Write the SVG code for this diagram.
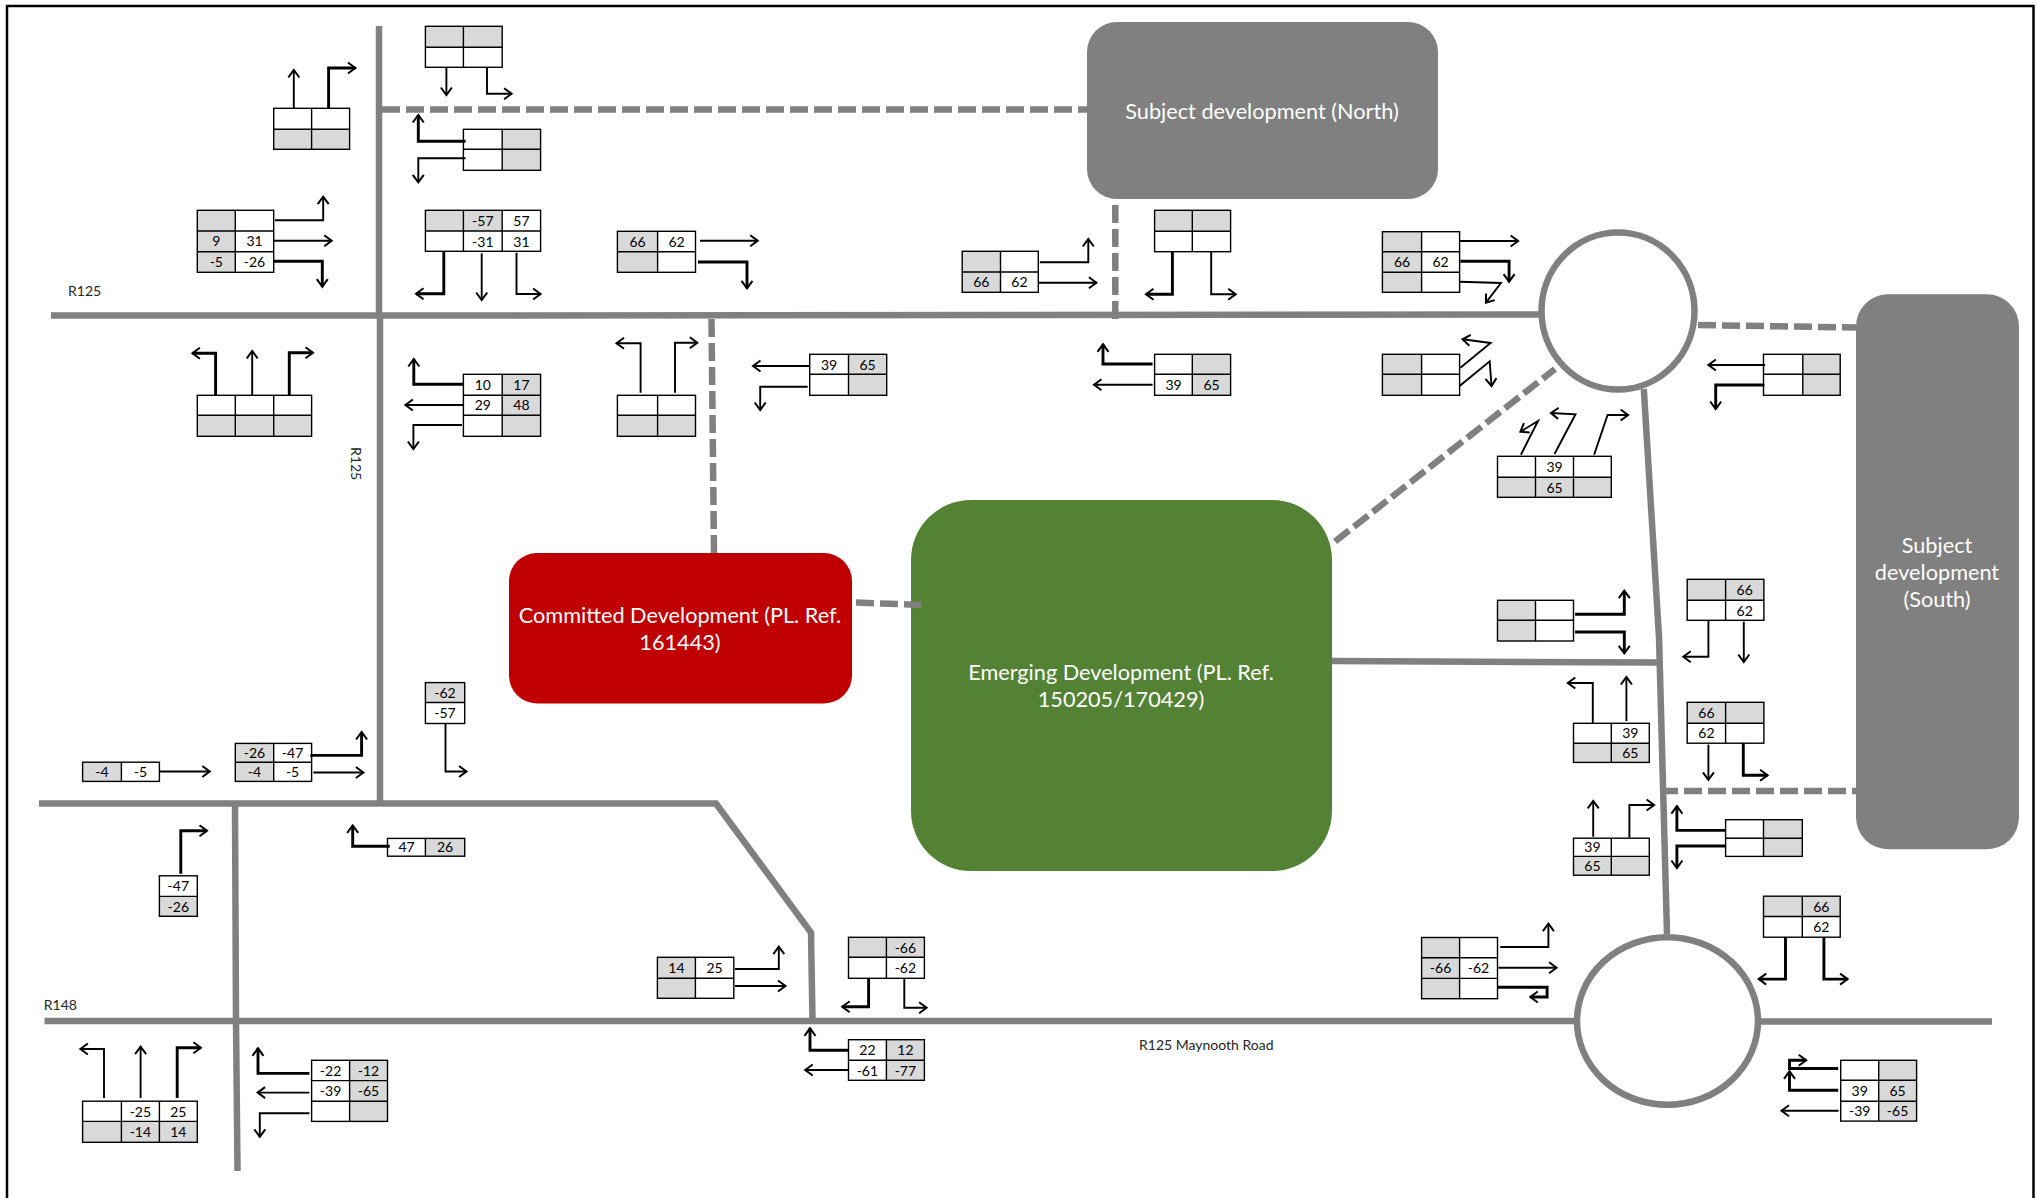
<svg xmlns="http://www.w3.org/2000/svg" width="2036" height="1198" viewBox="0 0 2036 1198">
<style>
.road{fill:none;stroke:#808080;stroke-width:6.5}
.dash{fill:none;stroke:#808080;stroke-width:6.5;stroke-dasharray:18 6}
.a{fill:none;stroke:#000;stroke-width:1.9;marker-end:url(#ah)}
.t{fill:none;stroke:#000;stroke-width:2.9;marker-end:url(#ah)}
.w{fill:#fff}
.g{fill:#d9d9d9}
.o{fill:none;stroke:#000;stroke-width:1.4}
text{font-family:Lato,"Liberation Sans",sans-serif;fill:#000;text-anchor:middle;font-size:14px}
.lab{fill:#262626;font-size:14px;text-anchor:start}
.big{fill:#fff;font-size:21.7px}
</style>
<defs>
<marker id="ah" markerUnits="userSpaceOnUse" markerWidth="16" markerHeight="16" viewBox="-12 -8 16 16" refX="0" refY="0" orient="auto">
<path d="M-7.5,-5.5L0,0L-7.5,5.5" fill="none" stroke="#000" stroke-width="2"/>
</marker>
</defs>
<rect width="2036" height="1198" fill="#fff"/>
<path d="M7,1198V6H2033.5V1198" fill="none" stroke="#000" stroke-width="2.5"/>
<g id="roads">
<path class="road" d="M379,26V316"/>
<path class="road" d="M380,316V803"/>
<path class="road" d="M51,315.5H379L1539,314.5"/>
<path class="road" d="M39,803.5H716L811,932.5L812.5,1020"/>
<path class="road" d="M235,803L236,1020L237.5,1171"/>
<path class="road" d="M44.5,1021H1577"/>
<path class="road" d="M1760,1021.5H1992"/>
<path class="road" d="M1643.8,389L1659,637L1667,934"/>
<path class="road" d="M1332,661L1659,662.5"/>
<ellipse class="road" cx="1618" cy="311" rx="76.5" ry="78.5"/>
<ellipse class="road" cx="1667.5" cy="1021" rx="90.5" ry="83.8"/>
<path class="dash" d="M382,109.5H1088"/>
<path class="dash" d="M1115.3,205V320"/>
<path class="dash" d="M711.5,319L714,553"/>
<path class="dash" d="M1335,541.5L1555,369"/>
<path class="dash" d="M1698,325L1856,327.5"/>
<path class="dash" d="M1660,791H1856"/>
</g>
<g id="subject-north"><rect x="1087" y="22" width="351" height="177" rx="30" fill="#808080"/><text class="big" x="1262" y="119">Subject development (North)</text></g>
<g id="subject-south"><rect x="1856" y="294.3" width="163" height="555" rx="32" fill="#808080"/><text class="big" x="1937" y="553">Subject</text><text class="big" x="1937" y="580">development</text><text class="big" x="1937" y="607">(South)</text></g>
<g id="committed"><rect x="509" y="553" width="343" height="150.5" rx="28" fill="#c00000"/><text class="big" x="680" y="623">Committed Development (PL. Ref.</text><text class="big" x="680" y="650">161443)</text></g>
<g id="emerging"><rect x="911" y="500" width="421" height="371" rx="60" fill="#548235"/><text class="big" x="1121" y="680">Emerging Development (PL. Ref.</text><text class="big" x="1121" y="707">150205/170429)</text></g>
<g id="label-r125-west"><text class="lab" x="68" y="296">R125</text></g>
<g id="label-r125-south"><text class="lab" x="0" y="0" transform="translate(351,447) rotate(90)">R125</text></g>
<g id="label-r148"><text class="lab" x="43.8" y="1010">R148</text></g>
<g id="label-maynooth"><text class="lab" x="1139" y="1050">R125 Maynooth Road</text></g>

<g id="t1"><rect class="w" x="425.4" y="26.3" width="76.8" height="41"/><rect class="g" x="425.4" y="26.3" width="76.8" height="21"/><rect class="o" x="425.4" y="26.3" width="76.8" height="41"/><path class="o" d="M463.4,26.3V67.3M425.4,47.3H502.2"/></g>
<g id="t2"><rect class="w" x="273.7" y="108.3" width="75.9" height="41"/><rect class="g" x="273.7" y="129.3" width="75.9" height="20"/><rect class="o" x="273.7" y="108.3" width="75.9" height="41"/><path class="o" d="M311.6,108.3V149.3M273.7,129.3H349.6"/></g>
<g id="t3"><rect class="w" x="463.4" y="129.3" width="77.2" height="41"/><rect class="g" x="502.2" y="129.3" width="38.4" height="41"/><rect class="o" x="463.4" y="129.3" width="77.2" height="41"/><path class="o" d="M502.2,129.3V170.3M463.4,149.3H540.6"/></g>
<g id="t4"><rect class="w" x="197.3" y="210.3" width="76.4" height="62"/><rect class="g" x="197.3" y="210.3" width="38" height="62"/><rect class="o" x="197.3" y="210.3" width="76.4" height="62"/><path class="o" d="M235.3,210.3V272.3M197.3,231H273.7M197.3,251.7H273.7"/><text x="216.3" y="246">9</text><text x="254.5" y="246">31</text><text x="216.3" y="267">-5</text><text x="254.5" y="267">-26</text></g>
<g id="t5"><rect class="w" x="425.4" y="210.3" width="115.2" height="41"/><rect class="g" x="425.4" y="210.3" width="76.8" height="20.7"/><rect class="o" x="425.4" y="210.3" width="115.2" height="41"/><path class="o" d="M463.4,210.3V251.3M502.2,210.3V251.3M425.4,231H540.6"/><text x="482.8" y="226">-57</text><text x="521.4" y="226">57</text><text x="482.8" y="246.5">-31</text><text x="521.4" y="246.5">31</text></g>
<g id="t6"><rect class="w" x="617.4" y="231.3" width="78.1" height="41"/><rect class="g" x="617.4" y="231.3" width="40.2" height="41"/><rect class="o" x="617.4" y="231.3" width="78.1" height="41"/><path class="o" d="M657.6,231.3V272.3M617.4,251.7H695.5"/><text x="637.5" y="246.5">66</text><text x="676.5" y="246.5">62</text></g>
<g id="t7"><rect class="w" x="197.3" y="395.3" width="114.3" height="41"/><rect class="g" x="197.3" y="415.3" width="114.3" height="21"/><rect class="o" x="197.3" y="395.3" width="114.3" height="41"/><path class="o" d="M235.3,395.3V436.3M273.7,395.3V436.3M197.3,415.3H311.6"/></g>
<g id="t8"><rect class="w" x="463.4" y="374.3" width="77.2" height="62"/><rect class="g" x="502.2" y="374.3" width="38.4" height="62"/><rect class="o" x="463.4" y="374.3" width="77.2" height="62"/><path class="o" d="M502.2,374.3V436.3M463.4,395.3H540.6M463.4,415.3H540.6"/><text x="482.8" y="390">10</text><text x="521.4" y="390">17</text><text x="482.8" y="410">29</text><text x="521.4" y="410">48</text></g>
<g id="t9"><rect class="w" x="617.4" y="395.3" width="78.1" height="41"/><rect class="g" x="617.4" y="415.3" width="78.1" height="21"/><rect class="o" x="617.4" y="395.3" width="78.1" height="41"/><path class="o" d="M657.6,395.3V436.3M617.4,415.3H695.5"/></g>
<g id="t10"><rect class="w" x="962.2" y="251.3" width="76.1" height="41"/><rect class="g" x="962.2" y="251.3" width="38.3" height="41"/><rect class="o" x="962.2" y="251.3" width="76.1" height="41"/><path class="o" d="M1000.5,251.3V292.3M962.2,272H1038.3"/><text x="981.3" y="287">66</text><text x="1019.4" y="287">62</text></g>
<g id="t11"><rect class="w" x="1154.6" y="210.3" width="76" height="41.4"/><rect class="g" x="1154.6" y="210.3" width="76" height="21"/><rect class="o" x="1154.6" y="210.3" width="76" height="41.4"/><path class="o" d="M1192.3,210.3V251.7M1154.6,231.3H1230.6"/></g>
<g id="t12"><rect class="w" x="809.7" y="354.3" width="77" height="41"/><rect class="g" x="848.5" y="354.3" width="38.2" height="41"/><rect class="o" x="809.7" y="354.3" width="77" height="41"/><path class="o" d="M848.5,354.3V395.3M809.7,374.3H886.7"/><text x="829.1" y="369.5">39</text><text x="867.6" y="369.5">65</text></g>
<g id="t13"><rect class="w" x="1154.6" y="354.3" width="76" height="41"/><rect class="g" x="1192.3" y="354.3" width="38.3" height="41"/><rect class="o" x="1154.6" y="354.3" width="76" height="41"/><path class="o" d="M1192.3,354.3V395.3M1154.6,374.3H1230.6"/><text x="1173.5" y="390">39</text><text x="1211.5" y="390">65</text></g>
<g id="t14"><rect class="w" x="1382.4" y="231.7" width="77.2" height="60.6"/><rect class="g" x="1382.4" y="231.7" width="39.2" height="60.6"/><rect class="o" x="1382.4" y="231.7" width="77.2" height="60.6"/><path class="o" d="M1421.6,231.7V292.3M1382.4,251.7H1459.6M1382.4,272.3H1459.6"/><text x="1402" y="267">66</text><text x="1440.6" y="267">62</text></g>
<g id="t15"><rect class="w" x="1382.4" y="354.3" width="77.2" height="41"/><rect class="g" x="1382.4" y="354.3" width="39.2" height="41"/><rect class="o" x="1382.4" y="354.3" width="77.2" height="41"/><path class="o" d="M1421.6,354.3V395.3M1382.4,374.3H1459.6"/></g>
<g id="t16"><rect class="w" x="82.6" y="762.2" width="76.8" height="19.2"/><rect class="g" x="82.6" y="762.2" width="38.8" height="19.2"/><rect class="o" x="82.6" y="762.2" width="76.8" height="19.2"/><path class="o" d="M121.4,762.2V781.4"/><text x="102" y="777">-4</text><text x="140.4" y="777">-5</text></g>
<g id="t17"><rect class="w" x="235.3" y="743.4" width="76.3" height="38"/><rect class="g" x="235.3" y="743.4" width="38.4" height="38"/><rect class="o" x="235.3" y="743.4" width="76.3" height="38"/><path class="o" d="M273.7,743.4V781.4M235.3,762.2H311.6"/><text x="254.5" y="758">-26</text><text x="292.6" y="758">-47</text><text x="254.5" y="777">-4</text><text x="292.6" y="777">-5</text></g>
<g id="t18"><rect class="w" x="425.4" y="682.6" width="39.3" height="40.9"/><rect class="g" x="425.4" y="682.6" width="39.3" height="19.9"/><rect class="o" x="425.4" y="682.6" width="39.3" height="40.9"/><path class="o" d="M425.4,702.5H464.7"/><text x="445" y="697.5">-62</text><text x="445" y="718">-57</text></g>
<g id="t19"><rect class="w" x="387.5" y="838.4" width="77.2" height="17.8"/><rect class="g" x="425.4" y="838.4" width="39.3" height="17.8"/><rect class="o" x="387.5" y="838.4" width="77.2" height="17.8"/><path class="o" d="M425.4,838.4V856.2"/><text x="406.5" y="852">47</text><text x="445" y="852">26</text></g>
<g id="t20"><rect class="w" x="159.4" y="875.8" width="37.9" height="40.5"/><rect class="g" x="159.4" y="896.4" width="37.9" height="19.9"/><rect class="o" x="159.4" y="875.8" width="37.9" height="40.5"/><path class="o" d="M159.4,896.4H197.3"/><text x="178.3" y="891">-47</text><text x="178.3" y="911.5">-26</text></g>
<g id="t21"><rect class="w" x="82.6" y="1101.2" width="114.7" height="41.1"/><rect class="g" x="82.6" y="1121.4" width="114.7" height="20.9"/><rect class="o" x="82.6" y="1101.2" width="114.7" height="41.1"/><path class="o" d="M121.4,1101.2V1142.3M159.4,1101.2V1142.3M82.6,1121.4H197.3"/><text x="140.4" y="1116.5">-25</text><text x="178.3" y="1116.5">25</text><text x="140.4" y="1137">-14</text><text x="178.3" y="1137">14</text></g>
<g id="t22"><rect class="w" x="311.6" y="1060.3" width="75.9" height="61.1"/><rect class="g" x="349.6" y="1060.3" width="37.9" height="61.1"/><rect class="o" x="311.6" y="1060.3" width="75.9" height="61.1"/><path class="o" d="M349.6,1060.3V1121.4M311.6,1080.6H387.5M311.6,1101.2H387.5"/><text x="330.6" y="1075.5">-22</text><text x="368.5" y="1075.5">-12</text><text x="330.6" y="1096">-39</text><text x="368.5" y="1096">-65</text></g>
<g id="t23"><rect class="w" x="657.4" y="957.3" width="76.4" height="41"/><rect class="g" x="657.4" y="957.3" width="38" height="41"/><rect class="o" x="657.4" y="957.3" width="76.4" height="41"/><path class="o" d="M695.4,957.3V998.3M657.4,978.3H733.8"/><text x="676.4" y="973">14</text><text x="714.6" y="973">25</text></g>
<g id="t24"><rect class="w" x="848.5" y="937.3" width="75.9" height="41"/><rect class="g" x="848.5" y="937.3" width="75.9" height="20"/><rect class="o" x="848.5" y="937.3" width="75.9" height="41"/><path class="o" d="M886.4,937.3V978.3M848.5,957.3H924.4"/><text x="905.4" y="952.5">-66</text><text x="905.4" y="973">-62</text></g>
<g id="t25"><rect class="w" x="848.5" y="1039.7" width="75.9" height="40.6"/><rect class="g" x="886.4" y="1039.7" width="38" height="40.6"/><rect class="o" x="848.5" y="1039.7" width="75.9" height="40.6"/><path class="o" d="M886.4,1039.7V1080.3M848.5,1060.3H924.4"/><text x="867.4" y="1055">22</text><text x="905.4" y="1055">12</text><text x="867.4" y="1075.5">-61</text><text x="905.4" y="1075.5">-77</text></g>
<g id="t26"><rect class="w" x="1497.5" y="456.3" width="113.8" height="41"/><rect class="g" x="1497.5" y="477.3" width="113.8" height="20"/><rect class="o" x="1497.5" y="456.3" width="113.8" height="41"/><path class="o" d="M1535.5,456.3V497.3M1573.5,456.3V497.3M1497.5,477.3H1611.3"/><text x="1554.5" y="472">39</text><text x="1554.5" y="492.5">65</text></g>
<g id="t27"><rect class="w" x="1763.5" y="354.3" width="76.7" height="41"/><rect class="g" x="1802.8" y="354.3" width="37.4" height="41"/><rect class="o" x="1763.5" y="354.3" width="76.7" height="41"/><path class="o" d="M1802.8,354.3V395.3M1763.5,374.3H1840.2"/></g>
<g id="t28"><rect class="w" x="1497.5" y="600.3" width="76" height="40.7"/><rect class="g" x="1497.5" y="600.3" width="38" height="40.7"/><rect class="o" x="1497.5" y="600.3" width="76" height="40.7"/><path class="o" d="M1535.5,600.3V641M1497.5,620.3H1573.5"/></g>
<g id="t29"><rect class="w" x="1687.2" y="579.3" width="76.7" height="41"/><rect class="g" x="1687.2" y="579.3" width="76.7" height="21"/><rect class="o" x="1687.2" y="579.3" width="76.7" height="41"/><path class="o" d="M1725.6,579.3V620.3M1687.2,600.3H1763.9"/><text x="1744.7" y="595">66</text><text x="1744.7" y="615.5">62</text></g>
<g id="t30"><rect class="w" x="1573.5" y="723.3" width="75.8" height="39.1"/><rect class="g" x="1573.5" y="743.2" width="75.8" height="19.2"/><rect class="o" x="1573.5" y="723.3" width="75.8" height="39.1"/><path class="o" d="M1611.3,723.3V762.4M1573.5,743.2H1649.3"/><text x="1630.3" y="738">39</text><text x="1630.3" y="758">65</text></g>
<g id="t31"><rect class="w" x="1687.2" y="702.3" width="76.7" height="40.9"/><rect class="g" x="1687.2" y="702.3" width="76.7" height="21"/><rect class="o" x="1687.2" y="702.3" width="76.7" height="40.9"/><path class="o" d="M1725.6,702.3V743.2M1687.2,723.3H1763.9"/><text x="1706.4" y="718">66</text><text x="1706.4" y="738">62</text></g>
<g id="t32"><rect class="w" x="1573.5" y="838.2" width="75.8" height="37"/><rect class="g" x="1573.5" y="856.4" width="75.8" height="18.8"/><rect class="o" x="1573.5" y="838.2" width="75.8" height="37"/><path class="o" d="M1611.3,838.2V875.2M1573.5,856.4H1649.3"/><text x="1592.4" y="852">39</text><text x="1592.4" y="871">65</text></g>
<g id="t33"><rect class="w" x="1725.6" y="819.7" width="76.7" height="36.7"/><rect class="g" x="1763.5" y="819.7" width="38.8" height="36.7"/><rect class="o" x="1725.6" y="819.7" width="76.7" height="36.7"/><path class="o" d="M1763.5,819.7V856.4M1725.6,838.2H1802.3"/></g>
<g id="t34"><rect class="w" x="1763.5" y="896.2" width="76.7" height="41"/><rect class="g" x="1763.5" y="896.2" width="76.7" height="20.3"/><rect class="o" x="1763.5" y="896.2" width="76.7" height="41"/><path class="o" d="M1802.3,896.2V937.2M1763.5,916.5H1840.2"/><text x="1821.3" y="911.5">66</text><text x="1821.3" y="932">62</text></g>
<g id="t35"><rect class="w" x="1421.6" y="937.5" width="75.9" height="61.2"/><rect class="g" x="1421.6" y="937.5" width="38" height="61.2"/><rect class="o" x="1421.6" y="937.5" width="75.9" height="61.2"/><path class="o" d="M1459.6,937.5V998.7M1421.6,957.8H1497.5M1421.6,978.4H1497.5"/><text x="1440.6" y="973">-66</text><text x="1478.5" y="973">-62</text></g>
<g id="t36"><rect class="w" x="1840.7" y="1060.3" width="75.9" height="60.8"/><rect class="g" x="1878.7" y="1060.3" width="37.9" height="60.8"/><rect class="o" x="1840.7" y="1060.3" width="75.9" height="60.8"/><path class="o" d="M1878.7,1060.3V1121.1M1840.7,1080.2H1916.6M1840.7,1101.2H1916.6"/><text x="1859.7" y="1095.5">39</text><text x="1897.6" y="1095.5">65</text><text x="1859.7" y="1116">-39</text><text x="1897.6" y="1116">-65</text></g>

<g id="connectors">
<path class="dash" d="M856,602.5L921,605"/>
<path class="a" d="M446.4,67V95"/>
<path class="a" d="M487,67V93.7H511.6"/>
<path class="a" d="M293.8,108V70"/>
<path class="t" d="M328.6,108V68H355.4"/>
<path class="t" d="M465.6,141.3H418.3V115"/>
<path class="a" d="M465.6,158.3H418.3V182.3"/>
<path class="a" d="M275,220.3H323.2V196.7"/>
<path class="a" d="M273.7,240.7H331.7"/>
<path class="t" d="M273.7,261.3H322.3V286.7"/>
<path class="t" d="M443.8,251V293.7H416"/>
<path class="a" d="M481.7,253.3V300"/>
<path class="a" d="M516.5,252.7V294H540.6"/>
<path class="a" d="M700,240.7H757.7"/>
<path class="t" d="M698,262H747V288.3"/>
<path class="t" d="M215.6,395V353.3H192.4"/>
<path class="a" d="M252.2,395V351"/>
<path class="t" d="M289.3,395V352.7H313"/>
<path class="t" d="M463.4,384.3H413.8V359"/>
<path class="a" d="M463.4,405H405.4"/>
<path class="a" d="M462,425H413.4V449"/>
<path class="a" d="M640.6,392.7V343.3H616.5"/>
<path class="a" d="M675,392.7V342.7H697.3"/>
<path class="a" d="M1039.8,262.3H1088.3V239"/>
<path class="a" d="M1038.3,282.7H1096.4"/>
<path class="t" d="M1172.4,251V294.3H1146"/>
<path class="a" d="M1211.2,251V294.3H1235.7"/>
<path class="a" d="M809.7,366H753"/>
<path class="a" d="M807.7,386.7H760.2V410"/>
<path class="t" d="M1152.6,364H1103V344.3"/>
<path class="a" d="M1152.6,384.7H1094"/>
<path class="a" d="M1460,241H1518.1"/>
<path class="t" d="M1460.4,261.3H1509.1V281.7"/>
<path class="a" d="M1459.6,281.7L1501,283L1485.9,302.7"/>
<path class="a" d="M1460.4,367.7L1490.6,343L1462.6,339.3"/>
<path class="a" d="M1459.6,386L1489.7,361.3L1491.5,386"/>
<path class="a" d="M1520.9,454.7L1538,421L1520.4,431.7"/>
<path class="a" d="M1554.5,454L1575.5,414.3L1550.9,413"/>
<path class="a" d="M1594.1,454.7L1607.6,415H1628.1"/>
<path class="a" d="M1765.2,365H1708.4"/>
<path class="t" d="M1764.4,385H1715.7V409"/>
<path class="t" d="M1575.1,614.3H1624.3V590.7"/>
<path class="t" d="M1575.1,632H1624.3V653.3"/>
<path class="a" d="M1708.4,620.3V656.7H1683.3"/>
<path class="a" d="M1743.8,621.7V662"/>
<path class="a" d="M1592.8,723V683H1567.8"/>
<path class="a" d="M1626.4,721V677"/>
<path class="a" d="M1708.4,744.6V779.9"/>
<path class="t" d="M1743.3,743V775.2H1767.6"/>
<path class="a" d="M1593.2,836.8V800.9"/>
<path class="a" d="M1629.4,837.5V805H1654.1"/>
<path class="t" d="M1725.6,830.4H1676.9V806.2"/>
<path class="t" d="M1725.6,846H1676.9V868"/>
<path class="t" d="M1785.5,937V979.1H1758.7"/>
<path class="t" d="M1823.9,937V979.1H1847.6"/>
<path class="a" d="M1500.2,947H1548.4V923.6"/>
<path class="a" d="M1498.4,967.8H1556.6"/>
<path class="t" d="M1497.5,987.3H1547.1V997H1530.3"/>
<path class="t" d="M1838.2,1068.5H1789.5V1060.3H1806.2"/>
<path class="t" d="M1838.2,1090.2H1789.5V1071.3"/>
<path class="a" d="M1838.6,1110.8H1781.5"/>
<path class="a" d="M159.4,771.5H209.8"/>
<path class="t" d="M310.3,755.4H361.6V732"/>
<path class="a" d="M313.4,772.5H363.4"/>
<path class="a" d="M445.5,723.5V771.5H466.5"/>
<path class="t" d="M389.7,846.3H352.7V825.4"/>
<path class="t" d="M180.8,873.7V830.8H207"/>
<path class="a" d="M104,1098V1049H80.4"/>
<path class="a" d="M140.6,1098V1046.6"/>
<path class="t" d="M177.2,1098V1047.7H200.9"/>
<path class="t" d="M309.4,1073.4H258V1048.3"/>
<path class="a" d="M309.4,1092.6H257.6"/>
<path class="a" d="M309.4,1113.2H259.8V1136.8"/>
<path class="a" d="M735,969H778.8V946.7"/>
<path class="a" d="M735,986H785.5"/>
<path class="t" d="M868.6,978.3V1006.7H842.2"/>
<path class="a" d="M904.3,978.3V1007.7H926.6"/>
<path class="t" d="M848.5,1050.3H810V1028.3"/>
<path class="a" d="M848.5,1070H805.2"/>
</g>
</svg>
